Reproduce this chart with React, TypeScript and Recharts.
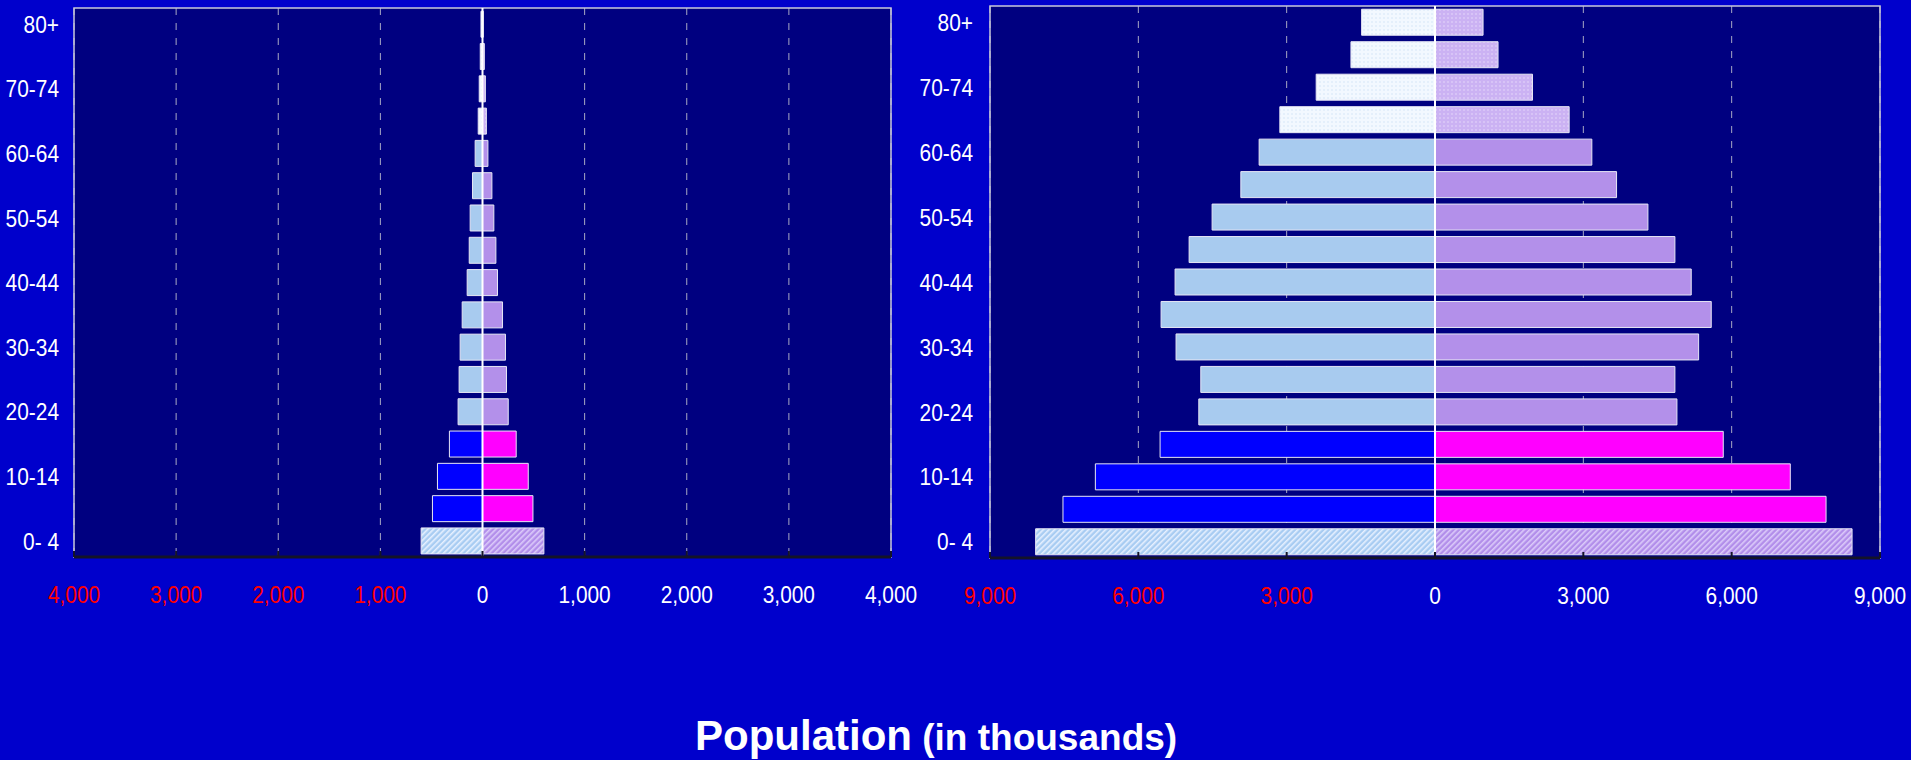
import { BarChart, Bar, XAxis, YAxis, CartesianGrid, ReferenceLine, ReferenceArea, Cell } from 'recharts';

// age groups, youngest first (index 0 = "0- 4")
const ageGroups = [
  '0- 4', '5-9', '10-14', '15-19', '20-24', '25-29', '30-34', '35-39', '40-44',
  '45-49', '50-54', '55-59', '60-64', '65-69', '70-74', '75-79', '80+',
];

// left pyramid (thousands)
const maleLeft = [601, 490, 441, 324, 239, 229, 219, 199, 150, 130, 121, 98, 72, 42, 32, 22, 15];
const femaleLeft = [601, 494, 448, 330, 252, 235, 225, 196, 147, 131, 111, 92, 53, 38, 28, 18, 8];

// right pyramid (thousands)
const maleRight = [8077, 7524, 6869, 5560, 4777, 4737, 5237, 5540, 5257, 4973, 4508, 3927, 3557, 3138, 2403, 1700, 1484];
const femaleRight = [8435, 7909, 7186, 5830, 4893, 4852, 5332, 5587, 5182, 4852, 4306, 3672, 3172, 2713, 1972, 1275, 972];

const leftTicks = [-4000, -3000, -2000, -1000, 0, 1000, 2000, 3000, 4000];
const rightTicks = [-9000, -6000, -3000, 0, 3000, 6000, 9000];

const FONT = 'Liberation Sans, Arial, Helvetica, sans-serif';

const maleFill = (i: number) => {
  if (i === 0) return 'url(#hatchM)';
  if (i <= 3) return '#0000FF';
  if (i <= 12) return '#A8CBEF';
  return 'url(#dotM)';
};
const femaleFill = (i: number) => {
  if (i === 0) return 'url(#hatchF)';
  if (i <= 3) return '#FF00FF';
  if (i <= 12) return '#B390EA';
  return 'url(#dotF)';
};

function XTick(props: any) {
  const { x, y, payload } = props;
  const v = Number(payload.value);
  return (
    <text
      x={0}
      y={0}
      transform={`translate(${x},${y}) scale(0.87,1)`}
      dy="0.71em"
      textAnchor="middle"
      fill={v < 0 ? '#FF0000' : '#FFFFFF'}
      fontSize={24}
      fontFamily={FONT}
    >
      {Math.abs(v).toLocaleString('en-US')}
    </text>
  );
}

function YTick(props: any) {
  const { x, y, payload } = props;
  return (
    <text
      x={0}
      y={0}
      transform={`translate(${x},${y}) scale(0.87,1)`}
      dy="0.36em"
      textAnchor="end"
      fill="#FFFFFF"
      fontSize={24}
      fontFamily={FONT}
    >
      {payload.value}
    </text>
  );
}

interface PyramidProps {
  male: number[];
  female: number[];
  max: number;
  ticks: number[];
  width: number;
  height: number;
  top: number;
  right: number;
  yWidth: number;
  yMargin: number;
}

function Pyramid({ male, female, max, ticks, width, height, top, right, yWidth, yMargin }: PyramidProps) {
  const data = ageGroups.map((age, i) => ({ age, male: -male[i], female: female[i] }));
  return (
    <BarChart
      width={width}
      height={height}
      data={data}
      layout="vertical"
      stackOffset="sign"
      barCategoryGap="10%"
      margin={{ top, right, bottom: 0, left: 0 }}
    >
      <CartesianGrid horizontal={false} fill="#000080" stroke="#A8A8C4" strokeDasharray="7 8" />
      <ReferenceArea x1={-max} x2={max} fill="none" stroke="#C8C8DA" strokeWidth={1.5} />
      <XAxis
        type="number"
        domain={[-max, max]}
        ticks={ticks}
        interval={0}
        allowDataOverflow
        height={60}
        axisLine={{ stroke: '#141428', strokeWidth: 3 }}
        tickLine={{ stroke: '#141428', strokeWidth: 2 }}
        tickSize={-6}
        tickMargin={35}
        tick={<XTick />}
      />
      <YAxis
        type="category"
        dataKey="age"
        reversed
        width={yWidth}
        interval={1}
        axisLine={false}
        tickLine={false}
        tickSize={0}
        tickMargin={yMargin}
        tick={<YTick />}
      />
      <Bar dataKey="male" stackId="s" stroke="#E6E6F4" strokeWidth={1} isAnimationActive={false}>
        {data.map((_, i) => (
          <Cell key={`m-${i}`} fill={maleFill(i)} />
        ))}
      </Bar>
      <Bar dataKey="female" stackId="s" stroke="#E6E6F4" strokeWidth={1} isAnimationActive={false}>
        {data.map((_, i) => (
          <Cell key={`f-${i}`} fill={femaleFill(i)} />
        ))}
      </Bar>
      <ReferenceLine x={0} stroke="#FFFFFF" strokeWidth={2} />
    </BarChart>
  );
}

export default function App() {
  return (
    <div style={{ position: 'fixed', left: 0, top: 0, width: 1911, height: 760, background: '#0000CC', overflow: 'hidden' }}>
      <svg width={0} height={0} style={{ position: 'absolute' }}>
        <defs>
          <pattern id="hatchM" width="4" height="4" patternUnits="userSpaceOnUse" patternTransform="rotate(45)">
            <rect width="4" height="4" fill="#A8CCF2" />
            <rect width="1.6" height="4" fill="#E6F0FF" />
          </pattern>
          <pattern id="hatchF" width="4" height="4" patternUnits="userSpaceOnUse" patternTransform="rotate(45)">
            <rect width="4" height="4" fill="#B28EEA" />
            <rect width="1.6" height="4" fill="#DCCBFA" />
          </pattern>
          <pattern id="dotM" width="4" height="4" patternUnits="userSpaceOnUse">
            <rect width="4" height="4" fill="#F2F8FF" />
            <circle cx="2" cy="2" r="0.8" fill="#D4E4F6" />
          </pattern>
          <pattern id="dotF" width="4" height="4" patternUnits="userSpaceOnUse">
            <rect width="4" height="4" fill="#CBB2F3" />
            <circle cx="2" cy="2" r="0.8" fill="#E6DAFC" />
          </pattern>
        </defs>
      </svg>

      <div style={{ position: 'absolute', left: 0, top: 0 }}>
        <Pyramid male={maleLeft} female={femaleLeft} max={4000} ticks={leftTicks}
          width={950} height={617} top={8} right={59} yWidth={74} yMargin={15} />
      </div>
      <div style={{ position: 'absolute', left: 910, top: 0 }}>
        <Pyramid male={maleRight} female={femaleRight} max={9000} ticks={rightTicks}
          width={1001} height={618} top={6} right={31} yWidth={80} yMargin={17} />
      </div>

      <svg width={1911} height={760} style={{ position: 'absolute', left: 0, top: 0, pointerEvents: 'none' }}>
        <text x={695} y={750} fill="#FFFFFF" fontFamily={FONT} fontWeight="bold">
          <tspan fontSize={42}>Population</tspan>
          <tspan fontSize={37}> (in thousands)</tspan>
        </text>
      </svg>
    </div>
  );
}
